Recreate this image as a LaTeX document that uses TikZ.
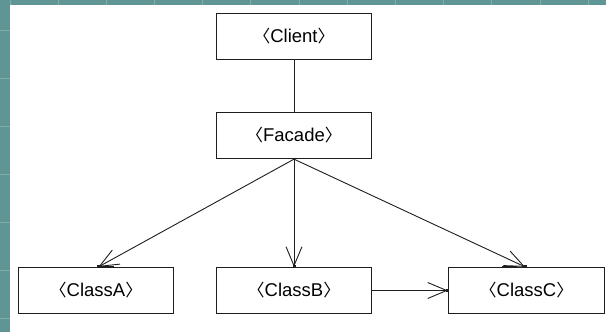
\documentclass[tikz,border=0pt]{standalone}
\usepackage{fontspec}
\setmainfont{Liberation Sans}
\newfontfamily\cjk{Noto Sans CJK KR}
\usetikzlibrary{arrows.meta,calc}
\definecolor{teal1}{RGB}{96,149,149}
\definecolor{teal2}{RGB}{128,172,172}
\definecolor{ink}{RGB}{30,30,30}
\tikzset{
  cls/.style={draw=ink, line width=1.3pt, fill=white, minimum width=155pt, minimum height=46pt, inner sep=0pt, font=\fontsize{18.5}{21}\selectfont},
  conn/.style={draw=ink, line width=0.9pt},
  nav/.style={conn, -{Straight Barb[length=19pt,width=16pt,line width=0.9pt]}},
  tipdot/.style={fill=ink, minimum size=3pt, inner sep=0pt, draw=none},
  selmark/.style={draw=ink, line width=2.4pt},
  gridln/.style={draw=teal2, line width=1pt}
}
\newcommand{\lbl}[1]{{\cjk\fontsize{17}{20}\selectfont 〈}#1{\cjk\fontsize{17}{20}\selectfont 〉}}
\begin{document}
\begin{tikzpicture}[x=1pt,y=-1pt]
  \useasboundingbox (0,0) rectangle (606,332);
  \fill[teal1] (0,0) rectangle (606,332);
  \fill[white] (10,5) rectangle (606,332);
  \foreach \i in {0,...,11} {\draw[gridln] ({58+48.2*\i},0) -- ({58+48.2*\i},5);}
  \draw[gridln] (10,0) -- (10,5);
  \foreach \i in {0,...,6} {\draw[gridln] (0,{30+48*\i}) -- (10,{30+48*\i});}

  \node[cls] (client) at (294,36.5) {\lbl{Client}};
  \node[cls] (facade) at (294,135.5) {\lbl{Facade}};
  \node[cls] (classA) at (96,290.5) {\lbl{ClassA}};
  \node[cls] (classB) at (294,290.5) {\lbl{ClassB}};
  \node[cls, minimum width=156pt] (classC) at (526.5,290.5) {\lbl{ClassC}};

  \coordinate (tA) at ($(classA.north)+(2.5,0)$);
  \coordinate (tC) at ($(classC.north)+(-1.5,0)$);

  \draw[conn] (client.south) -- (facade.north);
  \draw[nav] (facade.south) -- (tA);
  \draw[nav] (facade.south) -- (classB.north);
  \draw[nav] (facade.south) -- (tC);
  \draw[nav] (classB.east) -- (classC.west);

  \draw[selmark] (tA) -- ++(15,0);
  \draw[selmark] ($(tC)+(-8,0)$) -- ++(-15,0);
  \node[tipdot] at (classB.north) {};
  \node[tipdot] at (classC.west) {};
  \node[tipdot] at (tA) {};
  \node[tipdot] at (tC) {};
\end{tikzpicture}
\end{document}
